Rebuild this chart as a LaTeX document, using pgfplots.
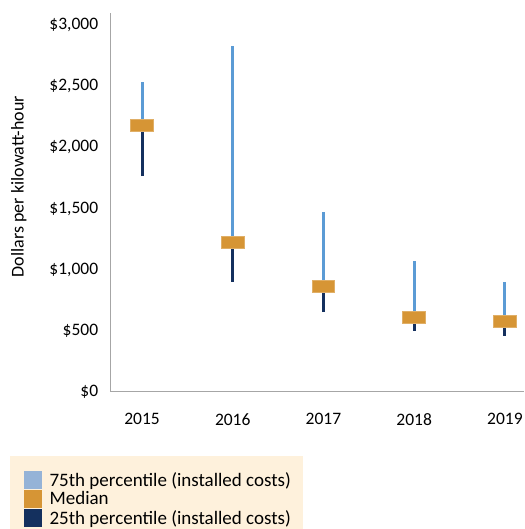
\documentclass[border=0pt]{standalone}
\usepackage{pgfplots}
\pgfplotsset{compat=1.18}
\usepackage{fontspec}
\setmainfont{Carlito}
\definecolor{upblue}{HTML}{5B9BD5}
\definecolor{lowblue}{HTML}{14305E}
\definecolor{medorange}{HTML}{D69535}
\definecolor{legblue}{HTML}{95B3D7}
\definecolor{legbg}{HTML}{FEF1DC}
\definecolor{axgray}{HTML}{A6A6A6}
\begin{document}
\begin{tikzpicture}
\begin{axis}[
  at={(110.7pt,137.3pt)}, anchor=south west,
  scale only axis, width=413.3pt, height=378.7pt,
  xmin=-0.345, xmax=4.21, ymin=0, ymax=3100,
  axis x line=bottom, axis y line=left,
  axis line style={axgray, line width=1.3pt, -},
  xtick={0,1,2,3,4}, xticklabels={2015,2016,2017,2018,2019},
  ytick={0,500,1000,1500,2000,2500,3000},
  yticklabel={\$\pgfmathprintnumber{\tick}},
  /pgf/number format/.cd, 1000 sep={,}, assume math mode=true, /pgfplots/.cd,
  major tick length=0pt, tick style={draw=none},
  yticklabel style={font=\fontsize{17.5}{20}\selectfont, xshift=-9pt},
  xticklabel style={font=\fontsize{17.5}{20}\selectfont, yshift=-18pt},
  ylabel={Dollars per kilowatt-hour},
  ylabel style={font=\fontsize{18}{21}\selectfont, at={(axis description cs:-0.222,0.542)}, anchor=center},
  legend style={at={(axis description cs:-0.2437,-0.1698)}, anchor=north west,
    fill=legbg, draw=none, font=\fontsize{19}{20}\selectfont,
    inner xsep=10pt, inner ysep=14pt, row sep=0pt,
    /tikz/every odd column/.append style={column sep=6pt},
    cells={anchor=west}},
  legend image code/.code={\path (0pt,0pt) -- (0pt,0pt); \fill[#1] (4pt,-8.5pt) rectangle (21pt,8.5pt);},
]
\addplot[upblue, line width=3pt, unbounded coords=jump, forget plot] coordinates {
  (0,2178) (0,2535) (0,nan)
  (1,1225) (1,2829) (1,nan)
  (2,861) (2,1470) (2,nan)
  (3,611) (3,1069) (3,nan)
  (4,574) (4,898)
};
\addplot[lowblue, line width=3pt, unbounded coords=jump, forget plot] coordinates {
  (0,1765) (0,2178) (0,nan)
  (1,898) (1,1225) (1,nan)
  (2,652) (2,861) (2,nan)
  (3,497) (3,611) (3,nan)
  (4,456) (4,574)
};
\addplot[only marks, mark=square*, mark size=6pt, mark options={xscale=1.9, fill=medorange, draw=medorange!75!white, line width=0.8pt}, forget plot] coordinates {
  (0,2178) (1,1225) (2,861) (3,611) (4,574)
};
\addlegendimage{legblue}
\addlegendentry{75th percentile (installed costs)}
\addlegendimage{medorange}
\addlegendentry{Median}
\addlegendimage{lowblue}
\addlegendentry{25th percentile (installed costs)}
\end{axis}
\pgfresetboundingbox
\path[use as bounding box] (0,0) rectangle (524pt,529pt);
\end{tikzpicture}
\end{document}
